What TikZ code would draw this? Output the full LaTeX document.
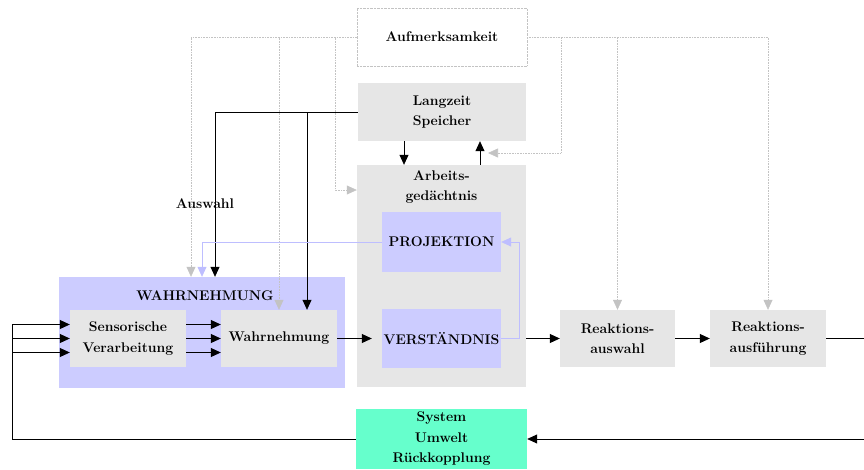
\documentclass[tikz,border=0pt]{standalone}
\usepackage{fontspec}
\usepackage{tikz}
\usetikzlibrary{positioning,arrows.meta}

\definecolor{boxgray}{RGB}{230,230,230}
\definecolor{lavender}{RGB}{204,204,255}
\definecolor{lavline}{RGB}{190,190,255}
\definecolor{mint}{RGB}{102,255,204}
\definecolor{attngray}{RGB}{195,195,195}

\begin{document}
\begin{tikzpicture}[x=1pt, y=-1pt,
	font=\fontsize{14}{20.5}\selectfont\bfseries,
	box/.style={rectangle, draw=none, fill=boxgray, align=center, inner sep=0pt},
	proc/.style={box, minimum width=116pt, minimum height=57pt},
	memo/.style={box, minimum width=168pt, minimum height=58pt},
	lila/.style={box, fill=lavender, minimum width=119pt, minimum height=60pt},
	arr/.style={-{Triangle[length=10pt,width=9pt]}, line width=0.8pt},
	attn/.style={-{Triangle[length=10pt,width=9pt]}, draw=attngray, densely dotted, line width=0.6pt},
	proj/.style={-{Triangle[length=10pt,width=9pt]}, draw=lavline, line width=0.7pt}
	]
	\useasboundingbox (0,0) rectangle (864,469);

	% Gedaechtnis
	\node (aufm) [memo, fill=none, draw=attngray, densely dotted, minimum width=170pt] at (442,37) {Aufmerksamkeit};
	\node (lzs) [memo] at (442,112) {Langzeit\\Speicher};
	\node (arbeit) [box, minimum width=169pt, minimum height=222pt] at (441.5,276) {};
	\node (arbeitText) [align=center, anchor=north, inner sep=0pt] at (441.5,170) {Arbeits-\\gedächtnis};
	\node (projekt) [lila] at (441.5,242) {PROJEKTION};
	\node (verst) [lila, minimum height=59pt] at (441.5,338.5) {VERSTÄNDNIS};

	% Wahrnehmung
	\node (wgroup) [box, fill=lavender, minimum width=286pt, minimum height=111pt] at (202,332.5) {};
	\node (wgroupText) [inner sep=0pt] at (205,296) {WAHRNEHMUNG};
	\node (sens) [proc] at (128,338.5) {Sensorische\\Verarbeitung};
	\node (wahr) [proc] at (279,338.5) {Wahrnehmung};

	% Reaktion
	\node (rauswahl) [proc, minimum width=115pt] at (617.5,338.5) {Reaktions-\\auswahl};
	\node (rausf) [proc] at (768,338.5) {Reaktions-\\ausführung};
	\node (system) [box, fill=mint, minimum width=171pt, minimum height=60pt] at (441.5,439) {System\\Umwelt\\Rückkopplung};

	\node (auswahl) [inner sep=0pt] at (205,204) {Auswahl};

	% Aufmerksamkeit
	\draw[attn] (aufm.west) -| ([xshift=-11pt]wgroup.north);
	\draw[attn] (aufm.west) -| (wahr.north);
	\draw[attn] (aufm.west) -| (335,190) -- (arbeit.west |- 0,190);
	\draw[attn] (aufm.east) -| (rauswahl.north);
	\draw[attn] (aufm.east) -| (rausf.north);
	\draw[attn] (aufm.east) -| (561,153) -- (488,153);

	% Langzeit Speicher
	\draw[arr] ([xshift=-38pt]lzs.south) -- ([xshift=-38pt]lzs.south |- arbeit.north);
	\draw[arr] ([xshift=38pt]lzs.south |- arbeit.north) -- ([xshift=38pt]lzs.south);
	\draw[arr] (lzs.west) -| ([xshift=13pt]wgroup.north);
	\draw[arr] (lzs.west) -| ([xshift=28pt]wahr.north);

	% Projektion
	\draw[proj] (projekt.west) -| (wgroup.north);
	\draw[proj] (verst.east) -- ++(18,0) |- (projekt.east);

	% Hauptfluss
	\foreach \dy in {-14,0,14}{
		\draw[arr] ([yshift=\dy pt]sens.east) -- ([yshift=\dy pt]wahr.west);
	}
	\draw[arr] (wahr.east) -- ([xshift=-10pt]verst.west);
	\draw[arr] (arbeit.east |- verst.east) -- (rauswahl.west);
	\draw[arr] (rauswahl) -- (rausf);
	\draw[arr] (rausf.east) -- ++(40,0) |- (system.east);

	% Rueckkopplung
	\coordinate (fb) at (12,324);
	\draw[line width=0.8pt] (system.west) -| (fb);
	\foreach \dy in {-14,0,14}{
		\coordinate (sin) at ([yshift=\dy pt]sens.west);
		\draw[arr] (fb |- sin) -- (sin);
	}
\end{tikzpicture}
\end{document}
